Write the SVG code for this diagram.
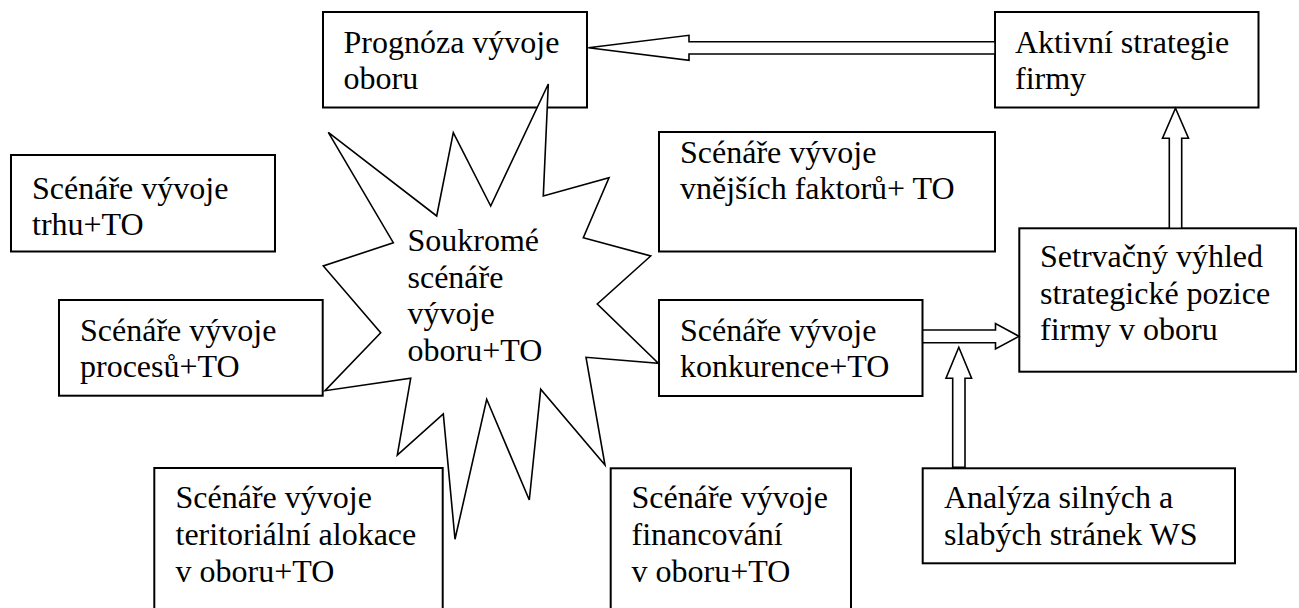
<svg xmlns="http://www.w3.org/2000/svg" width="1299" height="608" viewBox="0 0 1299 608">
<style>
  .box { fill: #ffffff; stroke: #000000; stroke-width: 2; }
  .star { fill: #ffffff; stroke: #000000; stroke-width: 1.6; stroke-linejoin: miter; }
  .arrow { fill: #ffffff; stroke: #000000; stroke-width: 1.6; stroke-linejoin: miter; }
  text { font-family: "Liberation Serif", "Times New Roman", serif; font-size: 32px; fill: #000000; }
</style>
<rect x="0" y="0" width="1299" height="608" fill="#ffffff"/>

<g id="prognoza">
  <rect class="box" x="323" y="12" width="264" height="95.5"/>
  <text x="343.5" y="52.5">Prognóza vývoje</text>
  <text x="343.5" y="89.3">oboru</text>
</g>

<g id="aktivni">
  <rect class="box" x="995" y="12" width="263.5" height="95.5"/>
  <text x="1015" y="52.5">Aktivní strategie</text>
  <text x="1015" y="89.3">firmy</text>
</g>

<g id="trhu">
  <rect class="box" x="11" y="155" width="264" height="96.5"/>
  <text x="32" y="198.5">Scénáře vývoje</text>
  <text x="32" y="235.3">trhu+TO</text>
</g>

<g id="vnejsich">
  <rect class="box" x="659" y="132" width="336" height="119.5"/>
  <text x="680" y="162.5">Scénáře vývoje</text>
  <text x="680" y="199.3">vnějších faktorů+ TO</text>
</g>

<g id="procesu">
  <rect class="box" x="59" y="300" width="263.7" height="95.7"/>
  <text x="80" y="340.5">Scénáře vývoje</text>
  <text x="80" y="377">procesů+TO</text>
</g>

<g id="konkurence">
  <rect class="box" x="659" y="300" width="263.5" height="96"/>
  <text x="680" y="340.5">Scénáře vývoje</text>
  <text x="680" y="377">konkurence+TO</text>
</g>

<g id="setrvacny">
  <rect class="box" x="1019.3" y="228.3" width="276.7" height="143.4"/>
  <text x="1040" y="266.7">Setrvačný výhled</text>
  <text x="1040" y="303.5">strategické pozice</text>
  <text x="1040" y="340.2">firmy v oboru</text>
</g>

<g id="teritorialni">
  <rect class="box" x="154.3" y="468" width="288.4" height="160"/>
  <text x="175.5" y="508.3">Scénáře vývoje</text>
  <text x="175.5" y="545">teritoriální alokace</text>
  <text x="175.5" y="581.7">v oboru+TO</text>
</g>

<g id="financovani">
  <rect class="box" x="610.7" y="468.3" width="240.3" height="160"/>
  <text x="631.5" y="508.3">Scénáře vývoje</text>
  <text x="631.5" y="545">financování</text>
  <text x="631.5" y="581.7">v oboru+TO</text>
</g>

<g id="analyza">
  <rect class="box" x="922.7" y="468.3" width="312.3" height="95"/>
  <text x="944" y="508.3">Analýza silných a</text>
  <text x="944" y="545">slabých stránek WS</text>
</g>

<g id="soukrome">
  <polygon class="star" points="548.3,84 543.3,196 609,177.7 583.3,237.7 650.7,256 597.3,304 658.3,363.3 586,357.3 605,465 540.7,389.3 529.3,500 486.7,399.3 455,539.3 443.3,414 397.3,455 410.7,378.3 325,390.7 380.7,332.7 323.3,266 393.3,242.7 328.3,132.3 436.7,216 453.3,132.7 490.7,206"/>
  <text x="407.5" y="250.7">Soukromé</text>
  <text x="407.5" y="287.5">scénáře</text>
  <text x="407.5" y="324.3">vývoje</text>
  <text x="407.5" y="361">oboru+TO</text>
</g>

<g id="connectors">
  <polygon class="arrow" points="995,41.7 689,41.7 689,35.3 588.3,47.8 689,60.3 689,54 995,54"/>
  <polygon class="arrow" points="1169.3,228.3 1169.3,138.3 1162.5,138.3 1175.5,108.3 1188.5,138.3 1181.7,138.3 1181.7,228.3"/>
  <polygon class="arrow" points="922.7,330 995.5,330 995.5,323.5 1019,336.3 995.5,349 995.5,342.7 922.7,342.7"/>
  <polygon class="arrow" points="952.7,467.3 952.7,378.3 946,378.3 958.8,347.3 971.6,378.3 965,378.3 965,467.3"/>
</g>
</svg>
